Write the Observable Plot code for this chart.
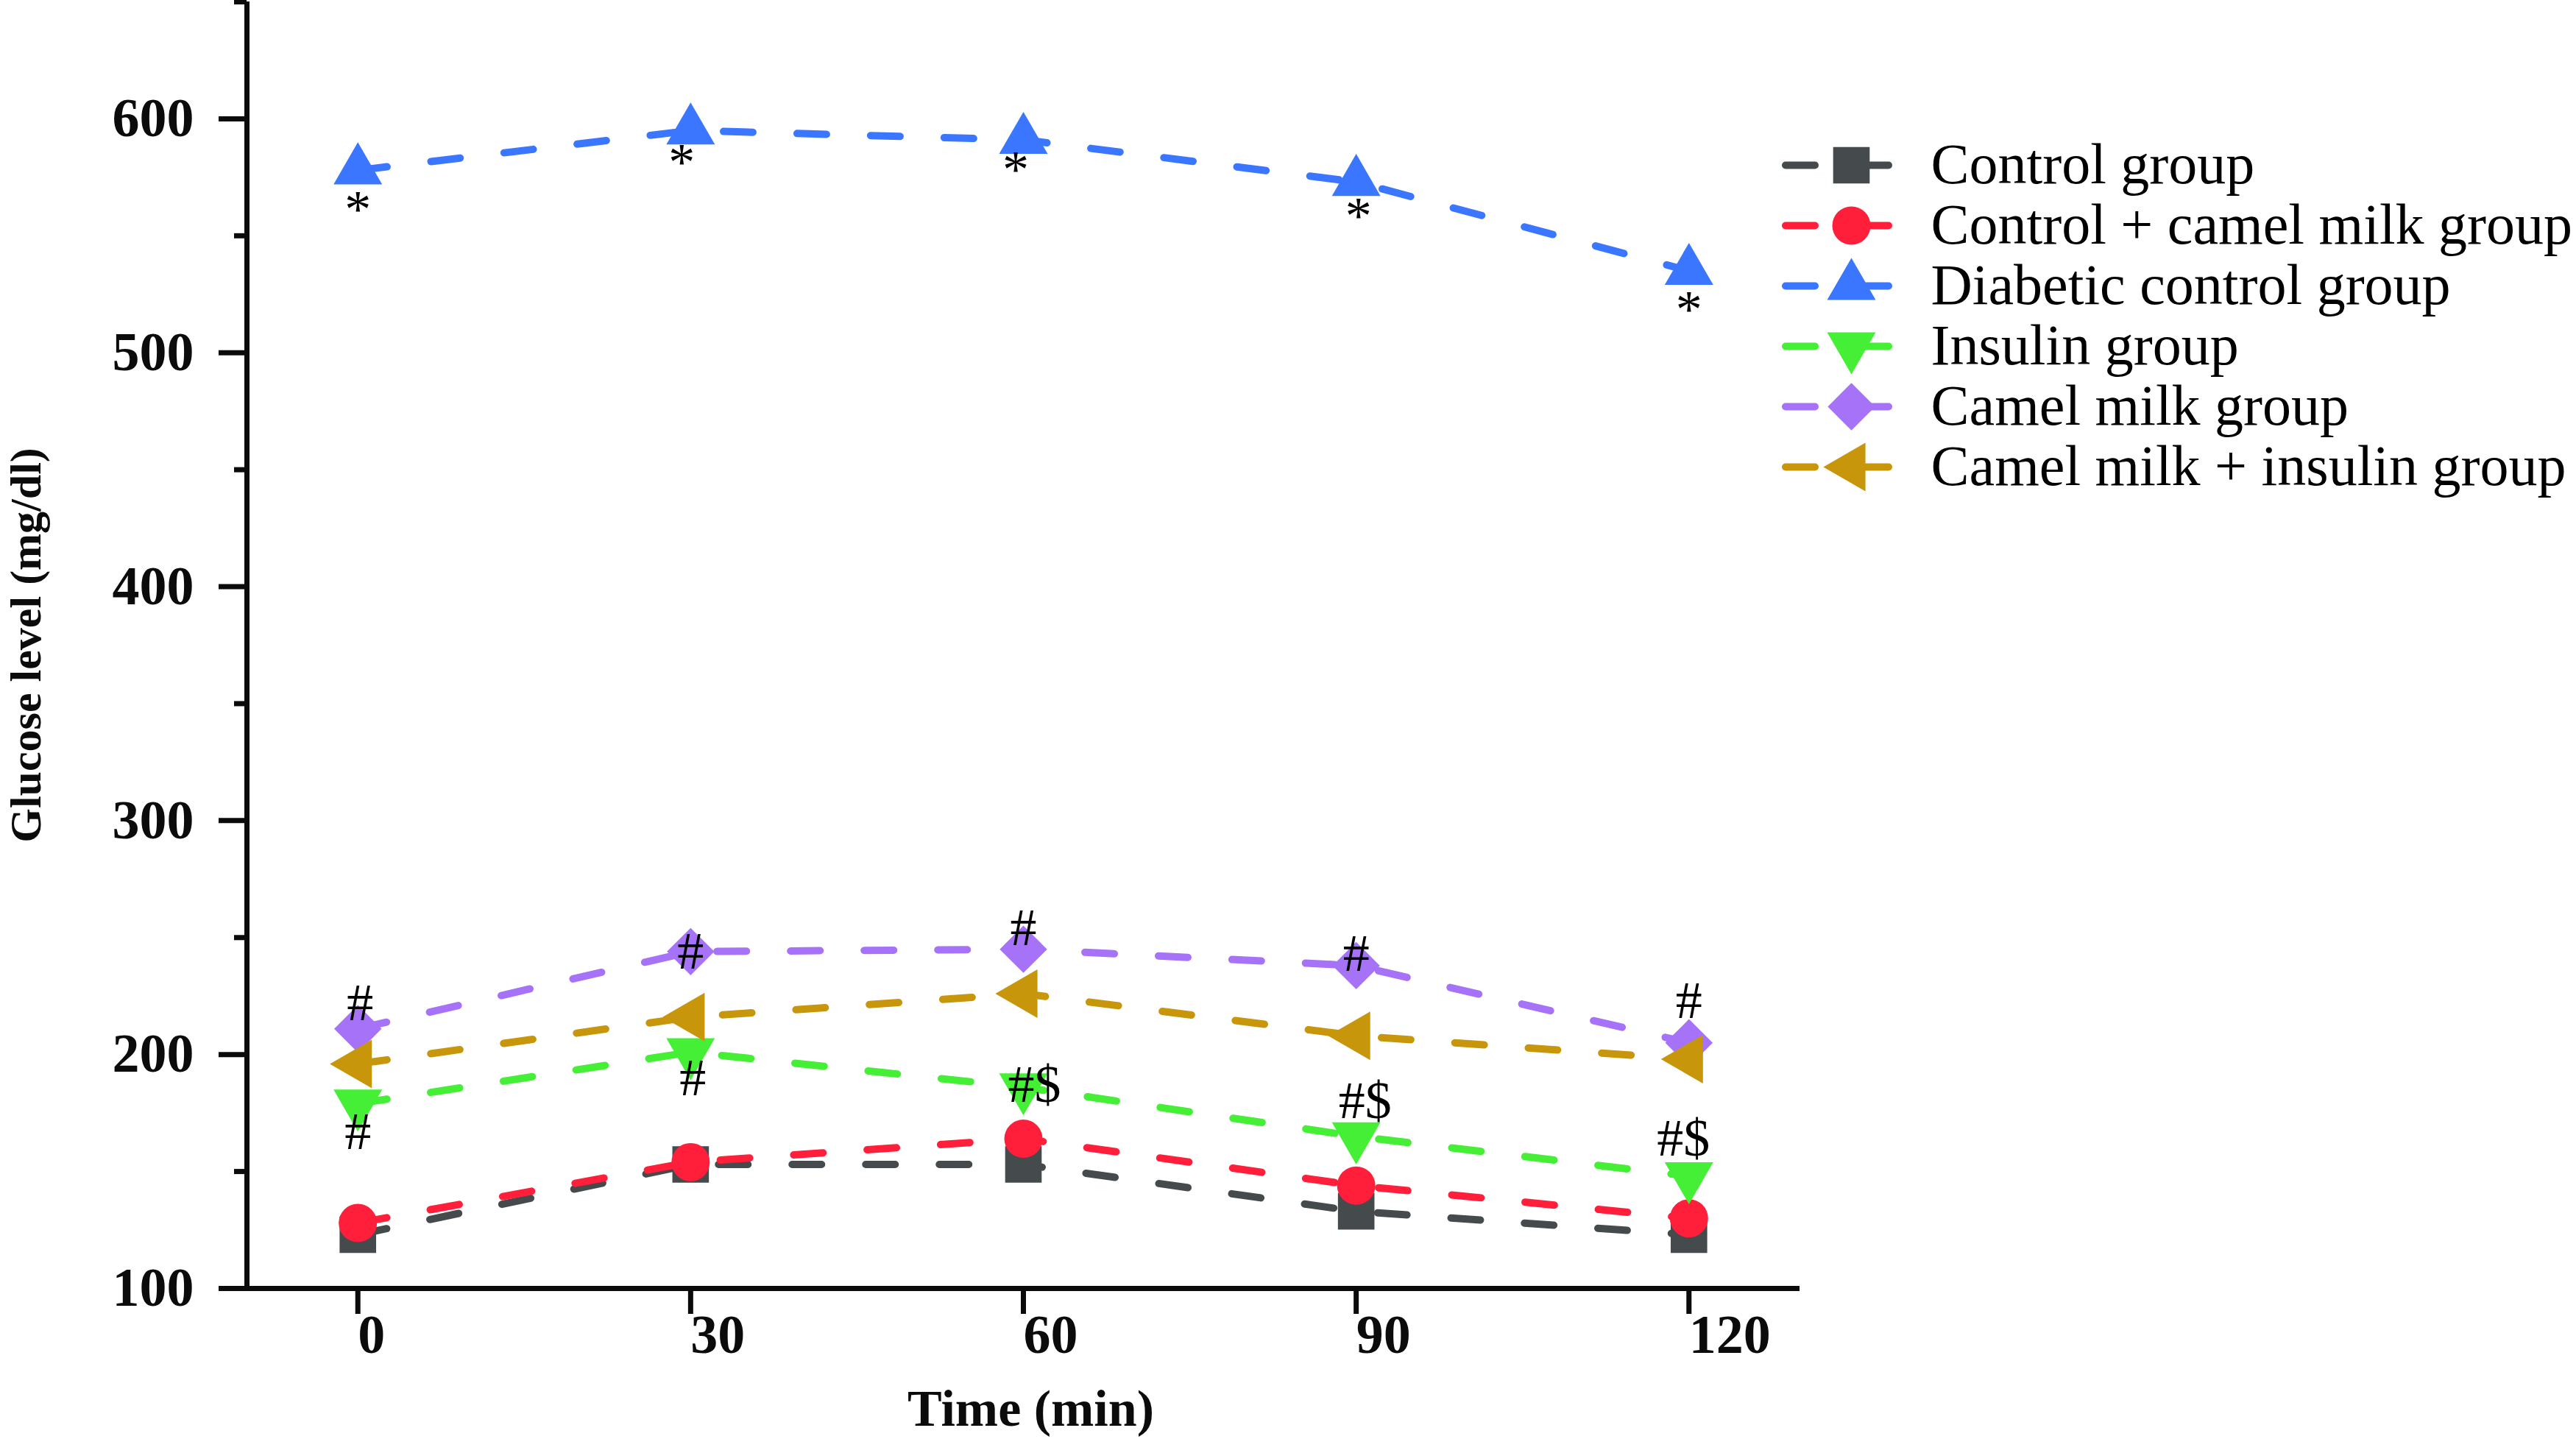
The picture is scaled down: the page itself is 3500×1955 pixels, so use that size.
<!DOCTYPE html>
<html><head><meta charset="utf-8">
<script src="https://cdn.jsdelivr.net/npm/d3@7"></script>
<script src="https://cdn.jsdelivr.net/npm/@observablehq/plot@0.6"></script>
<style>
html,body{margin:0;padding:0;background:#fff;}
#wrap{position:relative;width:3500px;height:1955px;overflow:hidden;background:#fff;}
#chart{position:absolute;left:0;top:0;}
#legend{position:absolute;left:2350px;top:150px;}
</style></head>
<body><div id="wrap"><div id="chart"></div><div id="legend"></div></div>
<script>
// ---- data ----
const times = [0, 30, 60, 90, 120];
const groups = ["Control group", "Control + camel milk group", "Diabetic control group", "Insulin group", "Camel milk group", "Camel milk + insulin group"];
const control = [123, 153, 153, 133, 123];
const controlCamel = [128, 154, 164, 144, 130];
const diabetic = [578, 595, 591, 573, 535];
const insulin = [179, 201, 186, 165, 148];
const camel = [211, 244, 245, 238, 205];
const camelInsulin = [196, 216, 226, 208, 198];

const yTicks = [100, 200, 300, 400, 500, 600];
const yMinor = [150, 250, 350, 450, 550, 650];
const xTicks = [0, 30, 60, 90, 120];

// significance marks
const starX = [0, 29.2, 59.3, 90.2, 120];
const starY = [565, 585, 582, 562, 522];
const hashLabels = ["#", "#", "#", "#", "#", "#", "#", "#$", "#$", "#$"];
const hashX = [0.2, 30, 60, 90, 120, 0, 30.2, 61, 90.8, 119.5];
const hashY = [222, 244, 254, 243, 223, 167, 190, 187, 180, 164];

// ---- styles ----
const colors = ["#454b4d", "#ff1f3b", "#3a76ff", "#44ef36", "#a672f8", "#c8960a"];
const symbols = ["square", "circle", "triangle", "triangle", "diamond2", "triangle"];
const rotations = [0, 0, 0, 180, 0, -90];
const radii = [28, 26, 24.5, 24.5, 29, 24.5];
const serif = "'Liberation Serif', 'Times New Roman', serif";

const seriesValues = [control, controlCamel, diabetic, insulin, camel, camelInsulin];
const data = groups.flatMap((g, i) => times.map((t, j) => ({group: g, time: t, value: seriesValues[i][j]})));
const stars = starX.map((x, i) => ({x, y: starY[i], label: "*"}));
const hashes = hashX.map((x, i) => ({x, y: hashY[i], label: hashLabels[i]}));

const marks = [
  Plot.axisY({ticks: yMinor, tickSize: 17, tickFormat: () => "", strokeWidth: 7, label: null}),
  Plot.axisY({ticks: yTicks, tickSize: 38, tickPadding: 34, fontSize: 74, fontWeight: "bold", strokeWidth: 7, label: null}),
  Plot.axisX({ticks: xTicks, tickSize: 35, tickPadding: 0, textAnchor: "start", fontSize: 74, fontWeight: "bold", strokeWidth: 7, label: null}),
  Plot.ruleX([-10], {strokeWidth: 7}),
  Plot.ruleY([100], {strokeWidth: 7}),
  Plot.text(["Glucose level (mg/dl)"], {frameAnchor: "left", textAnchor: "middle", lineAnchor: "middle", rotate: -90, dx: -300, fontSize: 60, fontWeight: "bold"}),
  Plot.text(["Time (min)"], {frameAnchor: "bottom", textAnchor: "middle", lineAnchor: "middle", dy: 164, dx: 10, fontSize: 70, fontWeight: "bold"})
];
groups.forEach((g, i) => {
  const rows = data.filter(d => d.group === g);
  marks.push(Plot.line(rows, {x: "time", y: "value", stroke: colors[i], strokeWidth: 10, strokeDasharray: "40,60", strokeLinecap: "round"}));
  marks.push(Plot.dot(rows, {x: "time", y: "value", symbol: symbols[i], r: radii[i], fill: colors[i], rotate: rotations[i], stroke: "none"}));
});
marks.push(Plot.text(stars, {x: "x", y: "y", text: "label", fontSize: 72, dy: 12, fill: "#000"}));
marks.push(Plot.text(hashes, {x: "x", y: "y", text: "label", fontSize: 72, fill: "#000"}));

const chart = Plot.plot({
  width: 3500, height: 1955,
  marginLeft: 335, marginRight: 1055, marginTop: 2, marginBottom: 205,
  x: {domain: [-10, 130]},
  y: {domain: [100, 650]},
  style: {fontFamily: serif, background: "white", color: "#0b0b0b", overflow: "visible"},
  marks
});
document.getElementById("chart").appendChild(chart);

// ---- legend ----
const legendMarks = [];
groups.forEach((g, i) => {
  legendMarks.push(Plot.ruleY([g], {y: d => d, x1: 76, x2: 219, stroke: colors[i], strokeWidth: 10, strokeDasharray: "40,60", strokeLinecap: "round"}));
  legendMarks.push(Plot.dot([g], {x: () => 165, y: d => d, symbol: symbols[i], r: radii[i], fill: colors[i], rotate: rotations[i], stroke: "none"}));
  legendMarks.push(Plot.text([g], {x: () => 273, y: d => d, text: d => d, textAnchor: "start", fontSize: 78, fill: "#000"}));
});
const legend = Plot.plot({
  width: 1150, height: 560, margin: 0,
  x: {domain: [0, 1150], range: [0, 1150], axis: null},
  y: {type: "point", domain: groups, range: [74, 74 + 5 * 82], padding: 0, axis: null},
  style: {fontFamily: serif, background: "transparent", overflow: "visible"},
  marks: legendMarks
});
document.getElementById("legend").appendChild(legend);
</script>
</body></html>
